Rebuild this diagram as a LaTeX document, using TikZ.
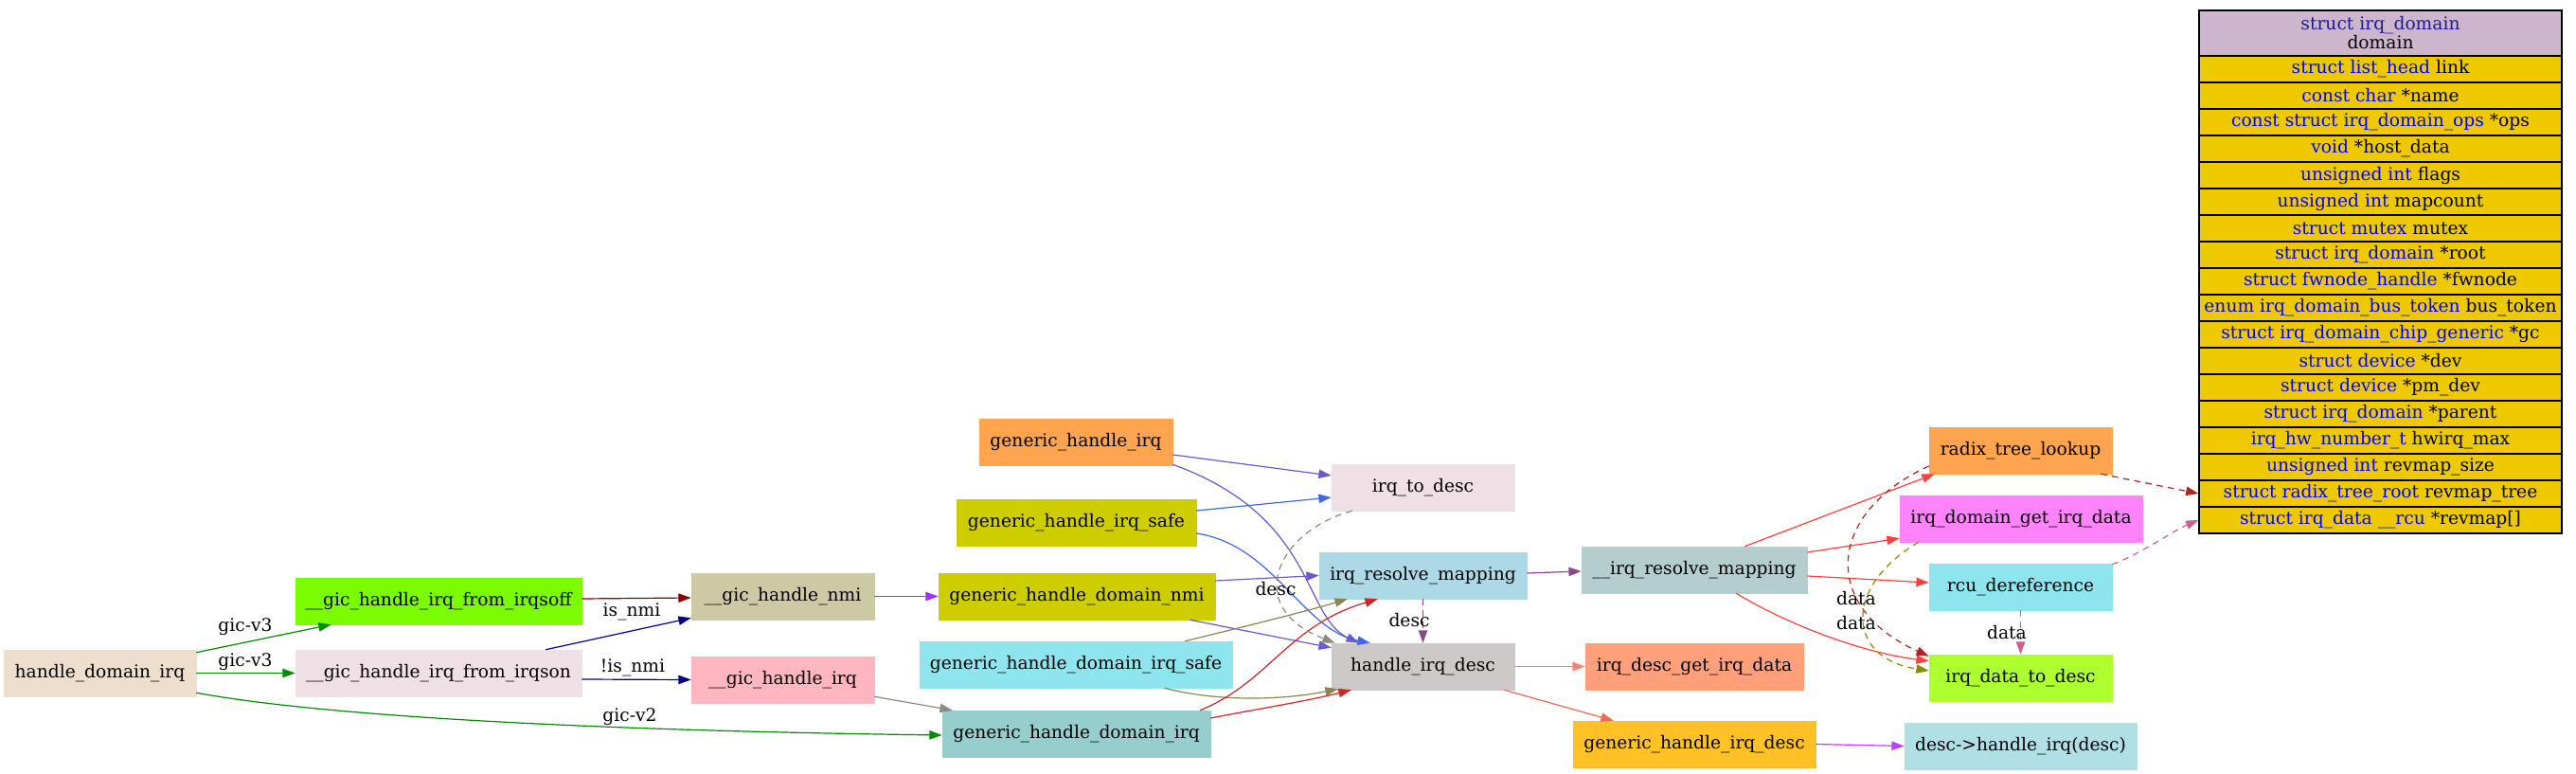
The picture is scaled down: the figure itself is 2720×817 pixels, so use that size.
\documentclass[tikz,border=0pt]{standalone}
\usepackage{fontspec}
\setmainfont{DejaVu Serif}
\usetikzlibrary{arrows.meta,calc}
\definecolor{cA}{HTML}{EEDFCC}
\definecolor{cB}{HTML}{7CFC00}
\definecolor{cC}{HTML}{EEE0E5}
\definecolor{cD}{HTML}{CDC9A5}
\definecolor{cE}{HTML}{FFB6C1}
\definecolor{cF}{HTML}{FFA54F}
\definecolor{cG}{HTML}{CDCD00}
\definecolor{cI}{HTML}{8EE5EE}
\definecolor{cJ}{HTML}{96CDCD}
\definecolor{cL}{HTML}{ADD8E6}
\definecolor{cM}{HTML}{CDC9C9}
\definecolor{cN}{HTML}{B4CDCD}
\definecolor{cO}{HTML}{FFA07A}
\definecolor{cP}{HTML}{FFC125}
\definecolor{cR}{HTML}{FF83FA}
\definecolor{cT}{HTML}{ADFF2F}
\definecolor{cU}{HTML}{B0E0E6}
\definecolor{thdr}{HTML}{CDB5CD}
\definecolor{trow}{HTML}{EEC900}
\definecolor{hdrblue}{HTML}{1C1C8C}
\definecolor{kgreen}{HTML}{008B00}
\definecolor{kdred}{HTML}{8B0000}
\definecolor{knavy}{HTML}{00008B}
\definecolor{kpurple}{HTML}{9B30FF}
\definecolor{kgray}{HTML}{8B8B83}
\definecolor{kslate}{HTML}{6A5ACD}
\definecolor{kroyal}{HTML}{4169E1}
\definecolor{kkhaki}{HTML}{8B864E}
\definecolor{kfire}{HTML}{CD2626}
\definecolor{kdgray}{HTML}{8B8B7A}
\definecolor{korchid}{HTML}{8B4789}
\definecolor{ksalmon}{HTML}{FA8072}
\definecolor{kcoral}{HTML}{EE6A50}
\definecolor{kdorchid}{HTML}{BF3EFF}
\definecolor{kbrown}{HTML}{FF4040}
\definecolor{kfb}{HTML}{B22222}
\definecolor{kolive}{HTML}{8B8B00}
\definecolor{khot}{HTML}{CD6090}
\newcommand\tyb[1]{\textcolor{blue}{#1}}
\begin{document}
\begin{tikzpicture}[x=0.75pt,y=-0.75pt,
  nd/.style 2 args={fill=#1, draw=#1, inner sep=0pt, minimum height=36.75pt,
     minimum width=#2*0.75pt, font=\fontsize{14pt}{16pt}\selectfont},
  ar/.style={-{Triangle[length=10pt,width=7pt]}, line width=0.9pt, draw=#1},
  dar/.style={ar=#1, dash pattern=on 5pt off 4pt},
  lbl/.style={font=\fontsize{14pt}{16pt}\selectfont, inner sep=0pt},
  trw/.style={draw=black, line width=0.8pt, fill=trow, inner sep=0pt,
     minimum width=287.25pt, minimum height=21pt, font=\fontsize{14pt}{16pt}\selectfont},
  thd/.style={draw=black, line width=0.8pt, fill=thdr, inner sep=0pt, align=center,
     minimum width=287.25pt, minimum height=36pt, font=\fontsize{14pt}{15pt}\selectfont}
]
\useasboundingbox[fill=white] (0,0) rectangle (2720,817);

% nodes
\node[nd={cA}{203}] (A) at (105.5,710.5) {handle\_domain\_irq};
\node[nd={cB}{302}] (B) at (463,634.5) {\_\_gic\_handle\_irq\_from\_irqsoff};
\node[nd={cC}{302}] (C) at (463,710.5) {\_\_gic\_handle\_irq\_from\_irqson};
\node[nd={cD}{193}] (D) at (826.5,629.5) {\_\_gic\_handle\_nmi};
\node[nd={cE}{193}] (E) at (826.5,717.5) {\_\_gic\_handle\_irq};
\node[nd={cF}{204}] (F) at (1136,466.5) {generic\_handle\_irq};
\node[nd={cG}{253}] (G) at (1136.5,551.5) {generic\_handle\_irq\_safe};
\node[nd={cG}{292}] (H) at (1137,629.5) {generic\_handle\_domain\_nmi};
\node[nd={cI}{330}] (I) at (1136,701.5) {generic\_handle\_domain\_irq\_safe};
\node[nd={cJ}{283}] (J) at (1136.5,774.5) {generic\_handle\_domain\_irq};
\node[nd={cC}{193}] (K) at (1502.5,514.5) {irq\_to\_desc};
\node[nd={cL}{219}] (L) at (1502.5,607.5) {irq\_resolve\_mapping};
\node[nd={cM}{193}] (M) at (1502.5,703.5) {handle\_irq\_desc};
\node[nd={cN}{238}] (N) at (1789,601.5) {\_\_irq\_resolve\_mapping};
\node[nd={cO}{230}] (O) at (1789,703.5) {irq\_desc\_get\_irq\_data};
\node[nd={cP}{256}] (P) at (1789,785.5) {generic\_handle\_irq\_desc};
\node[nd={cF}{193}] (Q) at (2133.5,475.5) {radix\_tree\_lookup};
\node[nd={cR}{256}] (R) at (2134,547.5) {irq\_domain\_get\_irq\_data};
\node[nd={cI}{193}] (S) at (2133.5,619.5) {rcu\_dereference};
\node[nd={cT}{193}] (T) at (2133.5,715.5) {irq\_data\_to\_desc};
\node[nd={cU}{245}] (U) at (2133.5,787.5) {desc->handle\_irq(desc)};

% table
\node[thd] (hd) at (2513.5,35) {\textcolor{hdrblue}{struct irq\_domain}\\domain};
\node[trw] (r1) at (2513.5,73) {\tyb{struct list\_head} link};
\node[trw] (r2) at (2513.5,101) {\tyb{const char} *name};
\node[trw] (r3) at (2513.5,129) {\tyb{const struct irq\_domain\_ops} *ops};
\node[trw] (r4) at (2513.5,157) {\tyb{void} *host\_data};
\node[trw] (r5) at (2513.5,185) {\tyb{unsigned int} flags};
\node[trw] (r6) at (2513.5,213) {\tyb{unsigned int} mapcount};
\node[trw] (r7) at (2513.5,241) {\tyb{struct mutex} mutex};
\node[trw] (r8) at (2513.5,269) {\tyb{struct irq\_domain} *root};
\node[trw] (r9) at (2513.5,297) {\tyb{struct fwnode\_handle} *fwnode};
\node[trw] (r10) at (2513.5,325) {\tyb{enum irq\_domain\_bus\_token} bus\_token};
\node[trw] (r11) at (2513.5,353) {\tyb{struct irq\_domain\_chip\_generic} *gc};
\node[trw] (r12) at (2513.5,381) {\tyb{struct device} *dev};
\node[trw] (r13) at (2513.5,409) {\tyb{struct device} *pm\_dev};
\node[trw] (r14) at (2513.5,437) {\tyb{struct irq\_domain} *parent};
\node[trw] (r15) at (2513.5,465) {\tyb{irq\_hw\_number\_t} hwirq\_max};
\node[trw] (r16) at (2513.5,493) {\tyb{unsigned int} revmap\_size};
\node[trw] (r17) at (2513.5,521) {\tyb{struct radix\_tree\_root} revmap\_tree};
\node[trw] (r18) at (2513.5,549) {\tyb{struct irq\_data \_\_rcu} *revmap[]};

% edges
\draw[ar=kgreen] ($(A.north east)+(0,3)$) -- ($(B.south west)+(38,0)$);
\node[lbl] (l1) at (259,662) {gic-v3};
\draw[ar=kgreen] (A.east) -- (C.west);
\node[lbl] (l2) at (259,699) {gic-v3};
\draw[ar=kgreen] ($(A.south east)+(0,-4)$) .. controls (320,752) and (560,770) .. ($(J.west)+(0,1.5)$);
\node[lbl] (l3) at (665,757) {gic-v2};
\draw[ar=kdred] ($(B.east)+(0,-2.5)$) -- ($(D.west)+(0,1.5)$);
\draw[ar=knavy] ($(C.north east)+(-38,0)$) -- ($(D.south west)+(0,-2)$);
\node[lbl] (l4) at (667,646) {is\_nmi};
\draw[ar=knavy] ($(C.east)+(0,6.5)$) -- (E.west);
\node[lbl] (l5) at (668,705) {!is\_nmi};
\draw[ar=kpurple] (D.east) -- (H.west);
\draw[ar=kgray] ($(E.south east)+(0,-7)$) -- ($(J.north west)+(11,0)$);

\draw[ar=kslate] ($(F.east)+(0,13.5)$) -- ($(K.west)+(0,-12.5)$);
\draw[ar=kslate] ($(F.south east)+(0,-1)$) .. controls (1390,545) and (1375,650) .. ($(M.north west)+(29,0)$);
\draw[ar=kroyal] ($(G.east)+(0,-12.5)$) -- ($(K.west)+(0,10.5)$);
\draw[ar=kroyal] ($(G.east)+(0,11.5)$) .. controls (1345,575) and (1375,665) .. ($(M.north west)+(41,0)$);
\draw[ar=kslate] ($(H.east)+(0,-16.5)$) -- (L.west);
\draw[ar=kslate] ($(H.south east)+(-27,0)$) -- ($(M.north west)+(0,5)$);
\draw[ar=kkhaki] ($(I.north east)+(-50,0)$) .. controls (1320,660) and (1380,645) .. ($(L.south west)+(30,0)$);
\draw[ar=kkhaki] ($(I.south east)+(-72,0)$) .. controls (1290,742) and (1360,738) .. ($(M.south west)+(7,-1)$);
\draw[ar=kfire] ($(J.north east)+(-11,0)$) .. controls (1340,720) and (1360,660) .. ($(L.south west)+(62,0)$);
\draw[ar=kfire] ($(J.east)+(0,-16.5)$) .. controls (1330,748) and (1380,740) .. ($(M.south west)+(21,0)$);
\draw[dar=kdgray] ($(K.south west)+(22,0)$) .. controls (1350,560) and (1310,640) .. ($(M.north west)+(4,0)$);
\node[lbl] (l6) at (1347,622) {desc};
\draw[ar=korchid] ($(L.east)+(0,-2.5)$) -- ($(N.west)+(0,1.5)$);
\draw[dar=korchid] (L.south) -- (M.north);
\node[lbl] (l7) at (1488,655) {desc};
\draw[ar=ksalmon] (M.east) -- (O.west);
\draw[ar=kcoral] ($(M.south east)+(-11,0)$) -- ($(P.north west)+(43,0)$);
\draw[ar=kdorchid] (P.east) -- (U.west);

\draw[ar=kbrown] ($(N.north east)+(-66,0)$) -- ($(Q.south west)+(6,0)$);
\draw[ar=kbrown] ($(N.east)+(0,-18.5)$) -- ($(R.south west)+(0,-4)$);
\draw[ar=kbrown] ($(N.east)+(0,6.5)$) -- ($(S.west)+(0,-4.5)$);
\draw[ar=kbrown] ($(N.south east)+(-75,0)$) .. controls (1880,655) and (1960,688) .. ($(T.north west)+(0,7)$);
\draw[dar=kfb] ($(Q.west)+(0,16.5)$) .. controls (1930,540) and (1920,640) .. ($(T.north west)+(0,2)$);
\node[lbl] (l8) at (1960,632) {data};
\draw[dar=kolive] ($(R.south west)+(20,0)$) .. controls (1945,620) and (1950,695) .. ($(T.west)+(0,-7.5)$);
\node[lbl] (l9) at (1960,658) {data};
\draw[dar=khot] (S.south) -- (T.north);
\node[lbl] (l10) at (2119,668) {data};
\draw[dar=kfb] ($(Q.south east)+(-12,0)$) -- (r17.west);
\draw[dar=khot] ($(S.north east)+(0,1)$) .. controls (2260,585) and (2295,560) .. (r18.west);
\end{tikzpicture}
\end{document}
